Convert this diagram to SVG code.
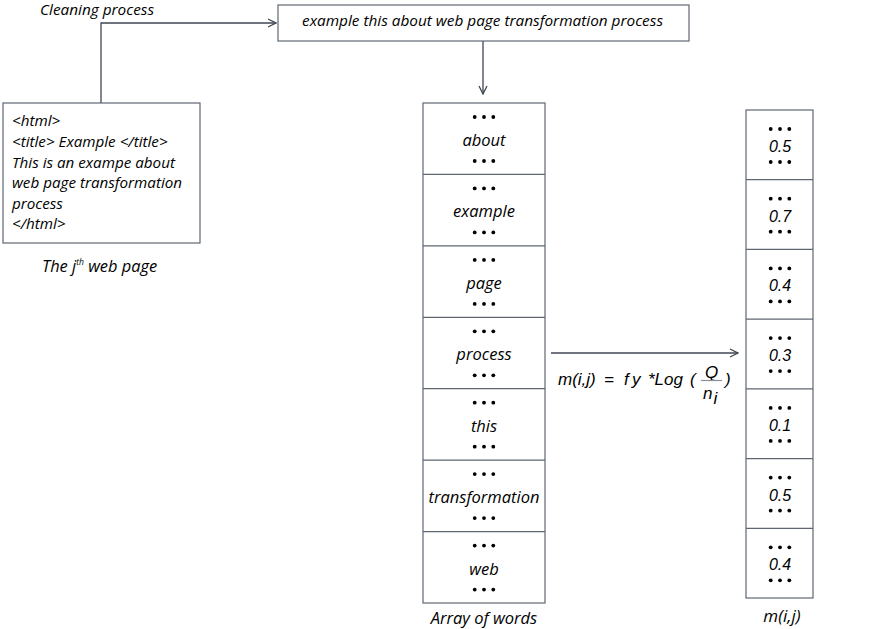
<svg xmlns="http://www.w3.org/2000/svg" xmlns:xlink="http://www.w3.org/1999/xlink" width="882" height="629" viewBox="0 0 882 629">
<style>
.box{fill:#fff;stroke:#5f6672;stroke-width:1.2}
.ln{fill:none;stroke:#3f4653;stroke-width:1.3}
.t{font-family:"Open Sans","DejaVu Sans",sans-serif;font-style:italic;fill:#000}
.w{font-size:16.5px;text-anchor:middle}
.n{font-family:"Liberation Sans",Arial,sans-serif;font-style:italic;font-size:16px;text-anchor:middle;fill:#000}
.f{font-family:"Liberation Sans",Arial,sans-serif;font-style:italic;font-size:17px;fill:#000}
</style>
<defs>
<marker id="ah" viewBox="0 0 10 10" refX="9" refY="5" markerWidth="10" markerHeight="10" markerUnits="userSpaceOnUse" orient="auto">
<path d="M1,1 L9,5 L1,9" fill="none" stroke="#3f4653" stroke-width="1.3"/>
</marker>
<g id="d3"><circle cx="-9.3" cy="0" r="1.9"/><circle cx="0" cy="0" r="1.9"/><circle cx="9.3" cy="0" r="1.9"/></g>
</defs>
<rect width="882" height="629" fill="#fff"/>

<g id="connectors">
<path class="ln" d="M101,103 V23 H276" marker-end="url(#ah)"/>
<path class="ln" d="M483,41 V94" marker-end="url(#ah)"/>
<path class="ln" d="M551,353 H738" marker-end="url(#ah)"/>
<text class="t" x="40" y="15" font-size="15" textLength="114" lengthAdjust="spacingAndGlyphs">Cleaning process</text>
</g>

<g id="webpage">
<rect class="box" x="3" y="103" width="197" height="140"/>
<text class="t" font-size="15.2"><tspan x="12" y="126">&lt;html&gt;</tspan><tspan x="12" y="147">&lt;title&gt; Example &lt;/title&gt;</tspan><tspan x="12" y="168">This is an exampe about</tspan><tspan x="12" y="188">web page transformation</tspan><tspan x="12" y="209">process</tspan><tspan x="12" y="229">&lt;/html&gt;</tspan></text>
<text class="t" x="42" y="272" font-size="16.4">The j<tspan font-size="8.5" dy="-7">th</tspan><tspan dy="7"> web page</tspan></text>
</g>

<g id="cleaned">
<rect class="box" x="278" y="5" width="411" height="36"/>
<text class="t" x="302" y="26" font-size="15" textLength="361" lengthAdjust="spacingAndGlyphs">example this about web page transformation process</text>
</g>

<g id="words">
<rect class="box" x="423" y="103" width="122" height="500"/>
<path class="box" d="M423,174.4H545M423,245.9H545M423,317.3H545M423,388.7H545M423,460.1H545M423,531.6H545"/>
<g fill="#000">
<use xlink:href="#d3" x="484" y="117"/><use xlink:href="#d3" x="484" y="161"/>
<use xlink:href="#d3" x="484" y="188.4"/><use xlink:href="#d3" x="484" y="232.4"/>
<use xlink:href="#d3" x="484" y="259.9"/><use xlink:href="#d3" x="484" y="303.9"/>
<use xlink:href="#d3" x="484" y="331.3"/><use xlink:href="#d3" x="484" y="375.3"/>
<use xlink:href="#d3" x="484" y="402.7"/><use xlink:href="#d3" x="484" y="446.7"/>
<use xlink:href="#d3" x="484" y="474.1"/><use xlink:href="#d3" x="484" y="518.1"/>
<use xlink:href="#d3" x="484" y="545.6"/><use xlink:href="#d3" x="484" y="589.6"/>
</g>
<text class="t w" x="484" y="146">about</text>
<text class="t w" x="484" y="217.4">example</text>
<text class="t w" x="484" y="288.9">page</text>
<text class="t w" x="484" y="360.3">process</text>
<text class="t w" x="484" y="431.7">this</text>
<text class="t w" x="484" y="503.1">transformation</text>
<text class="t w" x="484" y="574.6">web</text>
<text class="t w" x="484" y="624">Array of words</text>
</g>

<g id="formula">
<text class="f" x="558" y="385">m(i,j)</text>
<text class="f" x="604" y="385">=</text>
<text class="f" x="624" y="385">f</text>
<text class="f" x="632" y="385">y</text>
<text class="f" x="648" y="385">*Log</text>
<text class="f" x="690" y="385">(</text>
<text class="f" x="705" y="378">Q</text>
<path d="M701,380.5 H722" stroke="#8a9099" stroke-width="1.2"/>
<text class="f" x="703" y="399">n</text>
<text class="f" x="713.5" y="404" font-size="8">i</text>
<text class="f" x="725" y="385">)</text>
</g>

<g id="matrix">
<rect class="box" x="746" y="110" width="67" height="488"/>
<path class="box" d="M746,179.7H813M746,249.4H813M746,319.1H813M746,388.9H813M746,458.6H813M746,528.3H813"/>
<g fill="#000">
<use xlink:href="#d3" x="780" y="129"/><use xlink:href="#d3" x="780" y="162"/>
<use xlink:href="#d3" x="780" y="198.7"/><use xlink:href="#d3" x="780" y="231.7"/>
<use xlink:href="#d3" x="780" y="268.4"/><use xlink:href="#d3" x="780" y="301.4"/>
<use xlink:href="#d3" x="780" y="338.1"/><use xlink:href="#d3" x="780" y="371.1"/>
<use xlink:href="#d3" x="780" y="407.9"/><use xlink:href="#d3" x="780" y="440.9"/>
<use xlink:href="#d3" x="780" y="477.6"/><use xlink:href="#d3" x="780" y="510.6"/>
<use xlink:href="#d3" x="780" y="547.3"/><use xlink:href="#d3" x="780" y="580.3"/>
</g>
<text class="n" x="780" y="152">0.5</text>
<text class="n" x="780" y="221.7">0.7</text>
<text class="n" x="780" y="291.4">0.4</text>
<text class="n" x="780" y="361.1">0.3</text>
<text class="n" x="780" y="430.9">0.1</text>
<text class="n" x="780" y="500.6">0.5</text>
<text class="n" x="780" y="570.3">0.4</text>
<text class="t" x="782" y="622" font-size="17" text-anchor="middle">m(i,j)</text>
</g>
</svg>
